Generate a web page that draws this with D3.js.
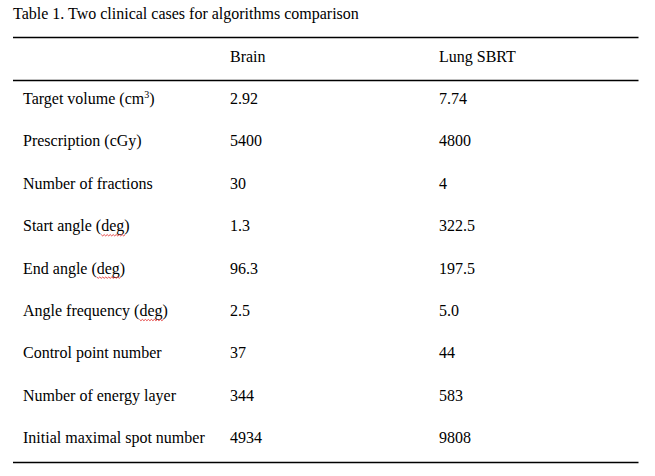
<!DOCTYPE html>
<html><head><meta charset="utf-8">
<script src="https://cdn.jsdelivr.net/npm/d3@7"></script>
<style>
html,body{margin:0;padding:0;background:#fff;}
svg{display:block;}
text{font-family:"Liberation Serif","Times New Roman",serif;font-size:16px;fill:#000;}
</style></head>
<body><svg id="c" width="655" height="476"></svg>
<script>
const title = "Table 1. Two clinical cases for algorithms comparison";
const columns = ["Brain", "Lung SBRT"];
const rowLabels = ["Target volume (cm³)", "Prescription (cGy)", "Number of fractions", "Start angle (deg)", "End angle (deg)", "Angle frequency (deg)", "Control point number", "Number of energy layer", "Initial maximal spot number"];
const brain = ["2.92", "5400", "30", "1.3", "96.3", "2.5", "37", "344", "4934"];
const lung = ["7.74", "4800", "4", "322.5", "197.5", "5.0", "44", "583", "9808"];

const svg = d3.select("#c");
const y = d3.scalePoint().domain(["__header"].concat(rowLabels)).range([56, 437.6]);
const x = d3.scaleOrdinal().domain(["label"].concat(columns)).range([23, 230, 439]);
const off = 5.5;

svg.append("text").attr("x", 13).attr("y", 18.5).text(title);

[37.5, 80.5, 462.5].forEach(v => svg.append("line").attr("x1", 13).attr("x2", 638.5).attr("y1", v).attr("y2", v).attr("stroke", "#000").attr("stroke-width", 1.5));

columns.forEach(c => svg.append("text").attr("x", x(c)).attr("y", y("__header") + off).text(c));

rowLabels.forEach((lab, i) => {
  const t = svg.append("text").attr("x", x("label")).attr("y", y(lab) + off);
  if (lab.includes("³")) {
    const parts = lab.split("³");
    t.append("tspan").text(parts[0]);
    t.append("tspan").attr("font-size", "10px").attr("dy", -6).text("3");
    t.append("tspan").attr("dy", 6).text(parts[1]);
  } else {
    t.text(lab);
    const idx = lab.indexOf("deg");
    if (idx >= 0) {
      const node = t.node();
      const x0 = x("label") + node.getSubStringLength(0, idx);
      const w = node.getSubStringLength(idx, 3);
      const yy = y(lab) + 9;
      let d = "M" + x0 + "," + yy;
      for (let k = 0, xx = x0; xx < x0 + w; k++) { xx += 1.5; d += "L" + xx + "," + (yy + (k % 2 ? 0 : 1.3)); }
      svg.append("path").attr("d", d).attr("fill", "none").attr("stroke", "#e02020").attr("stroke-width", 0.8);
    }
  }
  svg.append("text").attr("x", x("Brain")).attr("y", y(lab) + off).text(brain[i]);
  svg.append("text").attr("x", x("Lung SBRT")).attr("y", y(lab) + off).text(lung[i]);
});
</script></body></html>
